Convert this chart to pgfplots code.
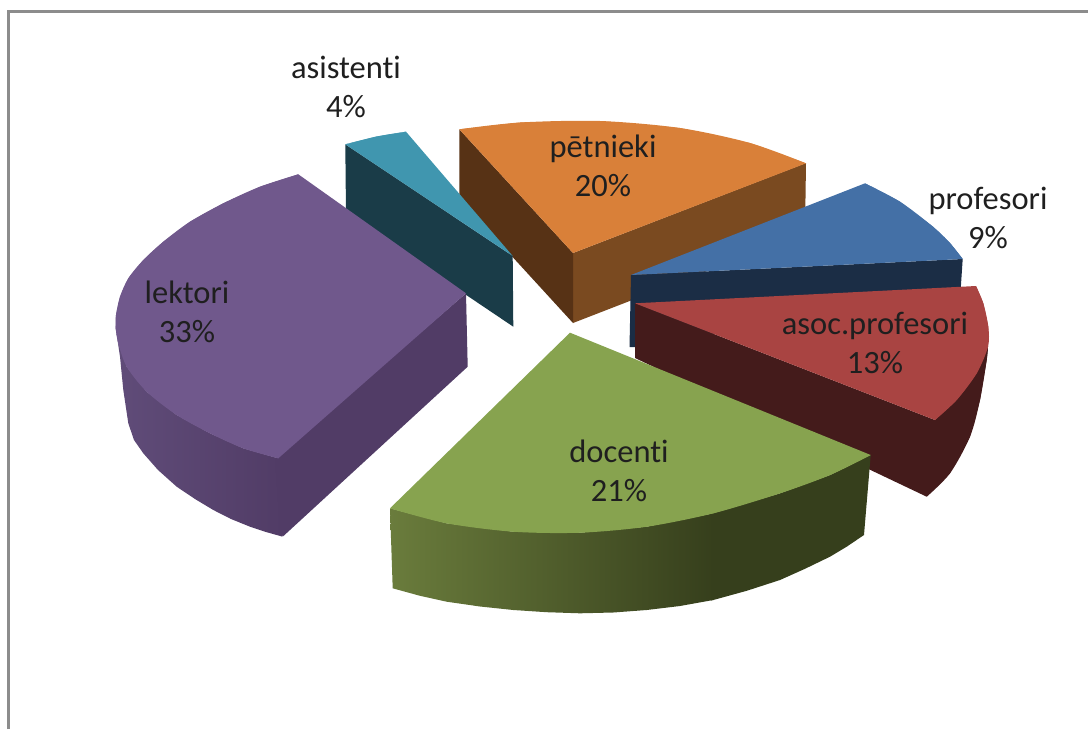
\documentclass[border=0pt]{standalone}
\usepackage{pgfplots}
\pgfplotsset{compat=1.18}
\usepackage{fontspec}
\setmainfont{Carlito}[Ligatures=NoCommon]
\definecolor{ortop}{HTML}{D98039}
\definecolor{orleft}{HTML}{573215}
\definecolor{orright}{HTML}{7A4A20}
\definecolor{bltop}{HTML}{4470A6}
\definecolor{blside}{HTML}{1B2D45}
\definecolor{retop}{HTML}{A94442}
\definecolor{reside}{HTML}{441B1B}
\definecolor{grtop}{HTML}{87A34F}
\definecolor{grA}{HTML}{6A7C3C}
\definecolor{grB}{HTML}{363F1C}
\definecolor{putop}{HTML}{70588C}
\definecolor{puA}{HTML}{604C79}
\definecolor{puB}{HTML}{513C66}
\definecolor{tetop}{HTML}{4096AF}
\definecolor{teside}{HTML}{1A3C48}
\definecolor{frame}{HTML}{8C8C8C}
\tikzset{lbl/.style={align=center, text=black!88, font=\fontsize{32.5}{39}\selectfont}}
\begin{document}
\begin{tikzpicture}
\begin{axis}[
  hide axis, scale only axis, width=1088pt, height=729pt,
  xmin=0, xmax=1088, ymin=0, ymax=729, y dir=reverse,
  every axis plot/.append style={draw=none, no markers, line width=0pt},
]
\addplot[draw=none] coordinates {(0,0)(1088,729)};
% frame
\addplot[draw=frame, line width=2.4pt] coordinates {(8.5,729)(8.5,11.5)(1088,11.5)};
% orange
\addplot[fill=orright] coordinates {(806,163)(573,253)(573,323)(805,233)(806,163)};
\addplot[fill=orleft] coordinates {(459.3,129.3)(573,253)(573,323)(459.5,199)(459.3,129.3)};
\addplot[fill=ortop] coordinates {(459.3,129.3)(520,122.5)(600,121)(680,128)(750,143)(806,163.3)(573,253)(459.3,129.3)};
\addplot[fill=ortop, smooth] coordinates {(459.3,129.3)(520,122.5)(600,121)(680,128)(750,143)(806,163.3)};
% teal
\addplot[fill=teside] coordinates {(345.3,144.3)(512.7,256)(513.3,326.7)(346,214)(345.3,144.3)};
\addplot[fill=tetop] coordinates {(345.3,144.3)(376.7,136.5)(406,131.7)(512.7,256)(345.3,144.3)};
\addplot[fill=tetop, smooth] coordinates {(345.3,144.3)(376.7,136.5)(406,131.7)};
% blue
\addplot[fill=blside] coordinates {(631,275)(962.7,259)(960.5,292)(636,347)(629.5,347)(631,275)};
\addplot[fill=bltop] coordinates {(631,275)(865,183.3)(900,201.7)(933,226.7)(950,243)(962.7,259)(631,275)};
\addplot[fill=bltop, smooth] coordinates {(865,183.3)(900,201.7)(933,226.7)(950,243)(962.7,259)};
% red
\addplot[fill=reside] coordinates {(635,303.3)(935,420)(988,346.7)(986.7,360)(980,400)(970,436.7)(950,473.3)(926.7,496.7)(635,358)(635,303.3)};
\addplot[fill=reside, smooth] coordinates {(988,346.7)(986.7,360)(980,400)(970,436.7)(950,473.3)(926.7,496.7)};
\addplot[fill=retop] coordinates {(635,303.3)(976,286)(983.3,303.3)(988.3,326.7)(988,346.7)(976.7,373.3)(956.7,400)(935,420)(635,303.3)};
\addplot[fill=retop, smooth] coordinates {(976,286)(983.3,303.3)(988.3,326.7)(988,346.7)(976.7,373.3)(956.7,400)(935,420)};
% purple
\addplot[left color=puA, right color=puB] coordinates {(115.7,328)(120,356.7)(123.3,390)(128.3,423.3)(134,440)(143.3,453.3)(158,470)(176.7,486.7)(195,499)(213.3,510)(231,519)(250,526.7)(266,532)(282.7,536.7)(278.3,458.3)(243.3,448.3)(210,433.3)(176.7,415)(146.7,391.7)(126.7,366.7)(118.3,343.3)(115.7,328)};
\addplot[fill=puB] coordinates {(466,293.3)(275,458.3)(280,530)(282.7,536.7)(467.7,366.7)(466,293.3)};
\addplot[fill=putop] coordinates {(298.3,174.3)(466,293.3)(278.3,458.3)(243.3,448.3)(210,433.3)(176.7,415)(146.7,391.7)(126.7,366.7)(118.3,343.3)(115.7,328)(116,315)(120,296.7)(128.3,278.3)(143.3,260)(163.3,241.7)(190,221.7)(223.3,203.3)(260,186.7)(298.3,174.3)};
\addplot[fill=putop, smooth] coordinates {(298.3,174.3)(260,186.7)(223.3,203.3)(190,221.7)(163.3,241.7)(143.3,260)(128.3,278.3)(120,296.7)(116,315)(115.7,328)(118.3,343.3)(126.7,366.7)(146.7,391.7)(176.7,415)(210,433.3)(243.3,448.3)(278.3,458.3)};
% green
\addplot[left color=grA, right color=grB] coordinates {(390,508.3)(446.7,523.3)(513.3,531.7)(580,532.7)(646.7,526.7)(713.3,513.3)(713.3,600)(680,606)(646.7,610)(613.3,612.5)(580,613.3)(546.7,612.2)(513.3,610)(480,606.5)(446.7,601.7)(420,595.8)(392.7,588.3)(390,508.3)};
\addplot[fill=grB] coordinates {(711,513.3)(780,493.3)(830,475)(870.7,455)(864,535)(847,546.5)(830,556.7)(805,568.8)(780,580)(746.7,590.8)(713.3,600)(711,600.5)(711,513.3)};
\addplot[fill=grtop] coordinates {(570,332.7)(870.7,455)(830,475)(780,493.3)(713.3,513.3)(646.7,526.7)(580,532.7)(513.3,531.7)(446.7,523.3)(390,508.3)(570,332.7)};
\addplot[fill=grtop, smooth] coordinates {(390,508.3)(446.7,523.3)(513.3,531.7)(580,532.7)(646.7,526.7)(713.3,513.3)(780,493.3)(830,475)(870.7,455)};
% labels
\node[lbl] at (axis cs:346,87) {asistenti\\4\%};
\node[lbl] at (axis cs:603,166) {pētnieki\\20\%};
\node[lbl] at (axis cs:988,218) {profesori\\9\%};
\node[lbl] at (axis cs:875,343) {asoc.profesori\\13\%};
\node[lbl] at (axis cs:187,312) {lektori\\33\%};
\node[lbl] at (axis cs:619,471) {docenti\\21\%};
\end{axis}
\end{tikzpicture}
\end{document}
